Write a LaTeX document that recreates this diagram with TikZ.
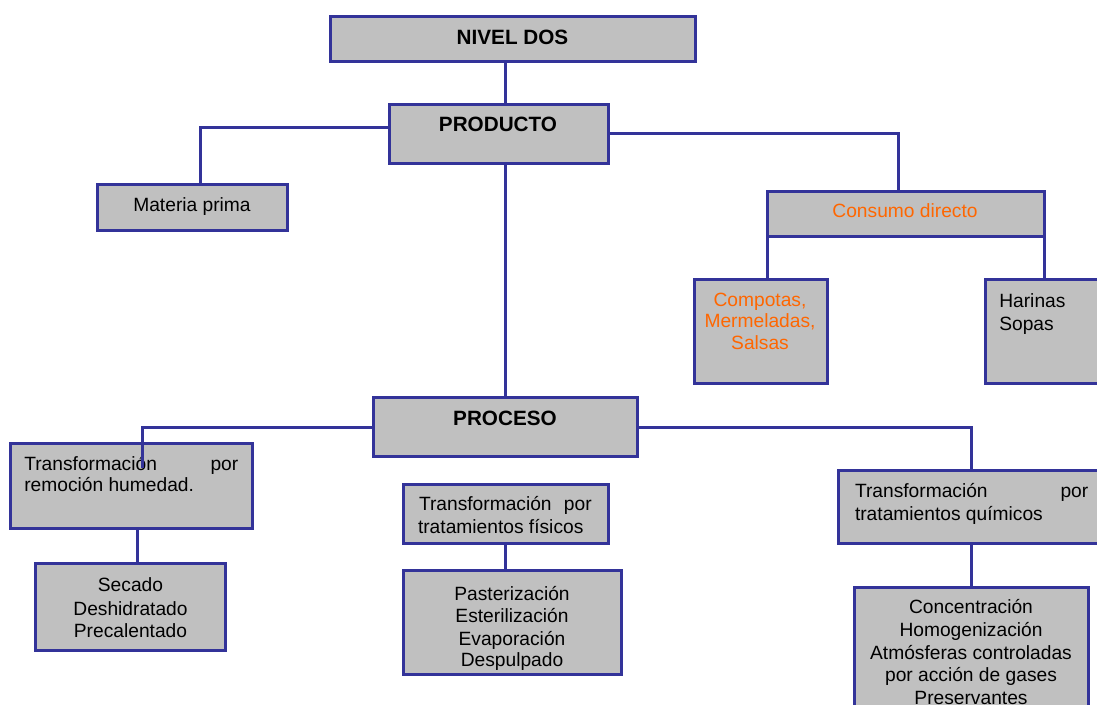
\documentclass[tikz,border=0pt]{standalone}
\usepackage{fontspec}
\setmainfont{Liberation Sans}
\definecolor{navy}{RGB}{51,51,153}
\definecolor{boxgray}{RGB}{192,192,192}
\definecolor{naranja}{RGB}{255,102,0}

% box given by its left, top, right and bottom edges
\newcommand\recuadro[5]{%
  \node[caja, minimum width={#4-#2}, minimum height={#5-#3}] (#1)
    at ({(#2+#4)/2},{(#3+#5)/2}) {};}

\begin{document}
\begin{tikzpicture}[x=1pt,y=-1pt,
  caja/.style={draw=navy, fill=boxgray, line width=3pt, inner sep=0pt, outer sep=0pt},
  enlace/.style={draw=navy, line width=3pt, line join=miter},
  txt/.style={inner sep=0pt, outer sep=0pt, anchor=base, font=\fontsize{19.2}{23}\selectfont},
  tit/.style={txt, font=\fontsize{20.7}{24}\selectfont\bfseries},
  izq/.style={txt, anchor=base west},
  der/.style={txt, anchor=base east},
  nar/.style={text=naranja}]

\useasboundingbox (0,0) rectangle (1097,704);
\clip (0,0) rectangle (1097,704);

% ---- boxes ----
\recuadro{nivel}{330}{16}{695}{61}
\recuadro{prod}{389}{104}{608}{163}
\recuadro{mat}{97}{184}{287}{230}
\recuadro{cons}{767}{191}{1044}{236}
\recuadro{comp}{694}{279}{827}{383}
\recuadro{har}{985}{279}{1104}{383}
\recuadro{proc}{373}{397}{637}{456}
\recuadro{rem}{10}{443}{252}{528}
\recuadro{sec}{35}{563}{225}{650}
\recuadro{fis}{403}{484}{608}{543}
\recuadro{past}{403}{570}{621}{674}
\recuadro{qui}{838}{470}{1104}{543}
\recuadro{conc}{854}{587}{1088}{724}

% ---- texts ----
\node[tit] (tNivel) at (512.5,44.3) {NIVEL DOS};
\node[tit] (tProd) at (498,131.7) {PRODUCTO};
\node[txt] (tMat) at (192,211.7) {Materia prima};
\node[txt,nar] (tCons) at (905,217.7) {Consumo directo};
\node[txt,nar] (tComp1) at (760,306) {Compotas,};
\node[txt,nar] (tComp2) at (760,327.7) {Mermeladas,};
\node[txt,nar] (tComp3) at (760,349.3) {Salsas};
\node[izq] (tHar1) at (999.3,307.3) {Harinas};
\node[izq] (tHar2) at (999.3,330.7) {Sopas};
\node[tit] (tProc) at (505,425) {PROCESO};

\node[izq] (tRem1) at (24.3,470) {Transformación};
\node[der] (tRem2) at (238.3,470) {por};
\node[izq] (tRem3) at (24.3,491.7) {remoción humedad.};
\node[txt] (tSec1) at (130.5,591.7) {Secado};
\node[txt] (tSec2) at (130.5,615) {Deshidratado};
\node[txt] (tSec3) at (130.5,637.3) {Precalentado};

\node[izq] (tFis1) at (419,510) {Transformación};
\node[der] (tFis2) at (591.7,510) {por};
\node[izq] (tFis3) at (418,533.3) {tratamientos físicos};
\node[txt] (tPast1) at (512,600) {Pasterización};
\node[txt] (tPast2) at (512,622.3) {Esterilización};
\node[txt] (tPast3) at (512,645) {Evaporación};
\node[txt] (tPast4) at (512,666.7) {Despulpado};

\node[izq] (tQui1) at (855,497.3) {Transformación};
\node[der] (tQui2) at (1088.3,497.3) {por};
\node[izq] (tQui3) at (855,520) {tratamientos químicos};
\node[txt] (tConc1) at (971,613.3) {Concentración};
\node[txt] (tConc2) at (971,636) {Homogenización};
\node[txt] (tConc3) at (971,659) {Atmósferas controladas};
\node[txt] (tConc4) at (971,681.7) {por acción de gases};
\node[txt] (tConc5) at (971,704.4) {Preservantes};

% ---- connectors ----
\coordinate (xEje) at (505,0);
\coordinate (xMat) at (200,0);
\coordinate (xCons) at (898,0);
\coordinate (xQui) at (971,0);
\coordinate (xSec) at (137,0);
\coordinate (yIzq) at (0,127);
\coordinate (yDer) at (0,133);
\coordinate (yProc) at (0,427);
\coordinate (finRem) at (142,468);

\draw[enlace] (xEje |- nivel.south) -- (xEje |- prod.north);
\draw[enlace] (xEje |- prod.south) -- (xEje |- proc.north);
\draw[enlace] (prod.west |- yIzq) -| (xMat |- mat.north);
\draw[enlace] (prod.east |- yDer) -| (xCons |- cons.north);
\draw[enlace] (cons.south west) -- (cons.south west |- comp.north);
\draw[enlace] (cons.south east) -- (cons.south east |- har.north);
\draw[enlace] (proc.west |- yProc) -| (finRem);
\draw[enlace] (proc.east |- yProc) -| (xQui |- qui.north);
\draw[enlace] (xSec |- rem.south) -- (xSec |- sec.north);
\draw[enlace] (xEje |- fis.south) -- (xEje |- past.north);
\draw[enlace] (xQui |- qui.south) -- (xQui |- conc.north);
\end{tikzpicture}
\end{document}
